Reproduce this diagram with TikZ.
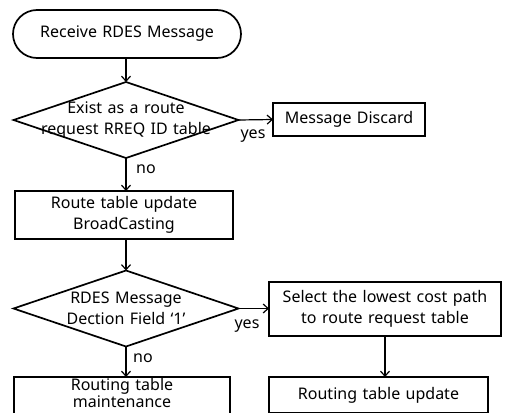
\documentclass[tikz,border=0pt]{standalone}
\usepackage{fontspec}
\setmainfont{Noto Sans}[WordSpace={1.3}]
\usetikzlibrary{shapes.geometric,arrows.meta}
\begin{document}
\begin{tikzpicture}[x=1pt,y=-1pt,
  every node/.style={font=\fontsize{16}{20.5}\selectfont},
  shp/.style={draw,line width=1.7pt,inner sep=0pt,outer sep=0pt,align=center},
  procbox/.style={shp,rectangle,minimum width=#1},
  decision/.style={shp,diamond,minimum width=225pt,minimum height=76pt},
  conn/.style={line width=1.2pt,-{Straight Barb[length=5pt,width=9pt,line width=1.2pt]}},
  lbl/.style={inner sep=0pt}]
\useasboundingbox (0,0) rectangle (505,412);
\clip (0,0) rectangle (505,412);
\node[shp,rectangle,rounded corners=24pt,minimum width=228pt,minimum height=48pt] (start) at (127,34) {Receive RDES Message};
\node[decision] (d1) at (126,120) {};
\node[lbl,align=center] (d1t) at (d1) {Exist as a route\\request RREQ ID table};
\node[procbox=152pt,minimum height=33pt] (discard) at (349,119.5) {Message Discard};
\node[procbox=218pt,minimum height=48pt] (route) at (124,215) {Route table update\\BroadCasting};
\node[decision] (d2) at (126,308.5) {};
\node[lbl,align=center] (d2t) at (d2) {RDES Message\\Dection Field `1'};
\node[procbox=232pt,minimum height=54pt] (select) at (385,309) {Select the lowest cost path\\to route request table};
\node[procbox=216pt,minimum height=38pt] (maint) at (122,396) {};
\node[lbl,align=center,font=\fontsize{16}{17.5}\selectfont] (mt) at (122,393) {Routing table\\maintenance};
\node[procbox=219pt,minimum height=36pt] (update) at (378.5,395) {Routing table update};
\draw[conn] (start.south -| d1.north) -- (d1.north);
\draw[conn] (d1.east) -- (discard.west);
\draw[conn] (d1.south) -- (d1.south |- route.north);
\draw[conn] (d1.south |- route.south) -- (d2.north);
\draw[conn] (d2.east) -- (d2.east -| select.west);
\draw[conn] (d2.south) -- (d2.south |- maint.north);
\draw[conn] (select.south) -- (select.south |- update.north);
\node[lbl] (y1) at (253,136) {yes};
\node[lbl] (n1) at (146,169) {no};
\node[lbl] (y2) at (247,326) {yes};
\node[lbl] (n2) at (143,358) {no};
\end{tikzpicture}
\end{document}
